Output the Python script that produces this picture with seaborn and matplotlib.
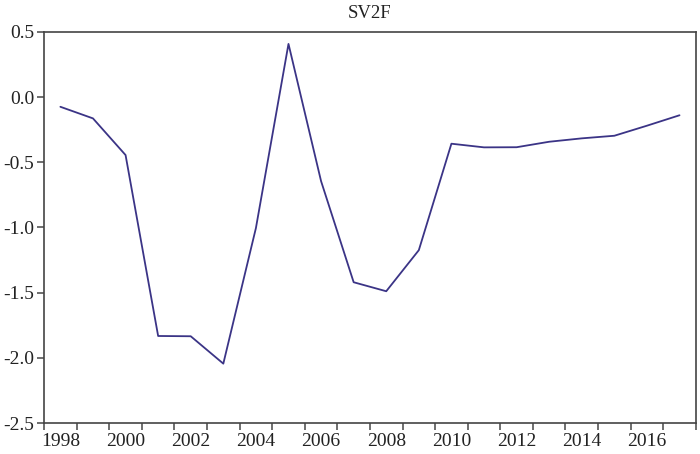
import numpy as np
import pandas as pd
import matplotlib
matplotlib.use("Agg")
import matplotlib.pyplot as plt
import seaborn as sns

years = list(range(1998, 2018))
sv2f = [-0.075, -0.164, -0.445, -1.832, -1.834, -2.044, -1.005, 0.407, -0.645, -1.42,
        -1.489, -1.174, -0.358, -0.386, -0.385, -0.343, -0.317, -0.297, -0.22, -0.14]
label_years = list(range(1998, 2017, 2))
y_ticks = [-2.5, -2.0, -1.5, -1.0, -0.5, 0.0, 0.5]

df = pd.DataFrame({"year": years, "SV2F": sv2f})

sns.set_style("white")
plt.rcParams["font.family"] = ["Liberation Serif", "DejaVu Serif"]

fig = plt.figure(figsize=(7, 4.54), dpi=100)
ax = fig.add_axes([0.063, 0.068, 0.931, 0.862])

sns.lineplot(data=df, x="year", y="SV2F", ax=ax, color="#3b3486", linewidth=1.3)

ax.set_xlim(1997.5, 2017.5)
ax.set_ylim(-2.5, 0.5)
ax.set_xticks(label_years)
ax.set_xticklabels([str(y) for y in label_years])
ax.set_xticks(np.arange(1997.5, 2018, 1), minor=True)
ax.tick_params(axis="x", which="major", length=0, pad=7, labelsize=14, labelcolor="#222222")
ax.tick_params(axis="x", which="minor", length=5, width=1.2, color="#555555", direction="out")
ax.set_yticks(y_ticks)
ax.set_yticklabels([f"{v:.1f}" for v in y_ticks])
ax.tick_params(axis="y", length=5, width=1.2, color="#555555", direction="out",
               labelsize=14, pad=2, labelcolor="#222222")
ax.xaxis.set_ticks_position("bottom")
ax.yaxis.set_ticks_position("left")

for s in ax.spines.values():
    s.set_color("#444444")
    s.set_linewidth(1.2)
    s.set_visible(True)

ax.set_xlabel("")
ax.set_ylabel("")
ax.set_title("SV2F", fontsize=13.5, pad=10, color="#222222")

fig.savefig("out.png", dpi=100)
